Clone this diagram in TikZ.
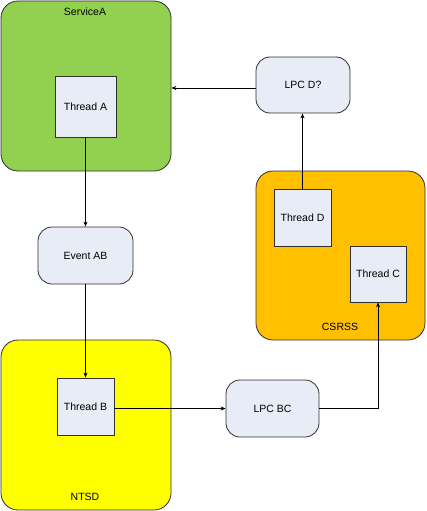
\documentclass[tikz,border=0pt]{standalone}
\usepackage{fontspec}
\setmainfont{Liberation Sans}
\usetikzlibrary{arrows.meta}
\definecolor{cgreen}{HTML}{92D050}
\definecolor{cyellow}{HTML}{FFFF00}
\definecolor{corange}{HTML}{FFC000}
\definecolor{cbox}{HTML}{E8ECF6}
\definecolor{cedge}{HTML}{303030}
\tikzset{
  container/.style={draw=cedge, line width=0.8pt, rounded corners=17pt},
  thread/.style={draw=cedge, fill=cbox, line width=0.8pt, minimum width=58pt, minimum height=58pt, inner sep=0pt},
  lpc/.style={draw=cedge, fill=cbox, line width=0.8pt, rounded corners=14pt, inner sep=0pt},
  conn/.style={draw=black, line width=0.7pt, -{Stealth[length=5pt,width=4pt]}},
  lbl/.style={inner sep=0pt}
}
\begin{document}
\begin{tikzpicture}[x=1pt,y=-1pt,font=\fontsize{10.5}{12}\selectfont]
\useasboundingbox (0,0) rectangle (426,511);
% containers
\node[container, fill=cgreen, minimum width=170pt, minimum height=170pt] (svc) at (86,86) {};
\node[container, fill=cyellow, minimum width=170pt, minimum height=170pt] (ntsd) at (86,425) {};
\node[container, fill=corange, minimum width=169pt, minimum height=169pt] (csrss) at (340.5,255.5) {};
\node[lbl] (svclbl) at (85,12) {ServiceA};
\node[lbl] (ntsdlbl) at (85,497) {NTSD};
\node[lbl] (csrsslbl) at (340,327) {CSRSS};
% threads
\node[thread, minimum width=61pt, minimum height=61pt] (ta) at (85.5,106.5) {Thread A};
\node[thread, minimum width=57pt, minimum height=57pt] (tb) at (85.5,406.5) {Thread B};
\node[thread, minimum width=57pt, minimum height=57pt] (td) at (302.5,217.5) {Thread D};
\node[thread, minimum width=56pt, minimum height=56pt] (tc) at (378,274) {Thread C};
% lpc / event
\node[lpc, minimum width=95pt, minimum height=57pt] (ev) at (85.5,255.5) {Event AB};
\node[lpc, minimum width=93pt, minimum height=57pt] (lbc) at (272.5,408.5) {LPC BC};
\node[lpc, minimum width=94pt, minimum height=56pt] (ld) at (303,85) {LPC D?};
% connectors
\draw[conn] (ta.south) -- (ev.north);
\draw[conn] (ev.south) -- (tb.north);
\draw[conn] (tb.east |- lbc.west) -- (lbc.west);
\draw[conn] (lbc.east) -| (tc.south);
\draw[conn] (td.north) -- (td.north |- ld.south);
\draw[conn] (ld.west |- 0,88) -- (svc.east |- 0,88);
\end{tikzpicture}
\end{document}
